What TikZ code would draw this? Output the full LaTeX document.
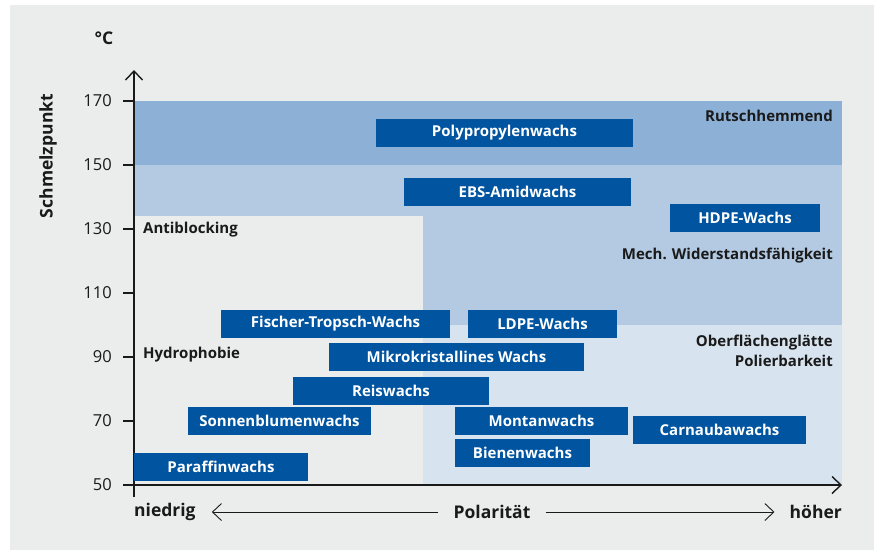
\documentclass[tikz,border=0pt]{standalone}
\usepackage{fontspec}
\setmainfont{Open Sans}
\usetikzlibrary{arrows.meta,positioning}
\definecolor{wachsblau}{HTML}{0054A0}
\definecolor{bandA}{HTML}{8DB0D6}
\definecolor{bandB}{HTML}{B3CAE2}
\definecolor{bandC}{HTML}{D7E3EF}
\definecolor{grund}{HTML}{EBECEC}
\definecolor{schrift}{HTML}{1A1A1A}

\begin{document}
\begin{tikzpicture}[x=1pt, y=-1pt, >={Straight Barb[length=9pt,width=17pt]}]
	\tikzstyle{wachs} = [fill=wachsblau, text=white, font=\bfseries\fontsize{15}{18}\selectfont, minimum height=28pt, inner sep=0pt]
	\tikzstyle{eigenschaft} = [text=schrift, font=\bfseries\fontsize{15}{20.5}\selectfont, inner sep=0pt]
	\tikzstyle{achse} = [text=schrift, font=\bfseries\fontsize{17.5}{20}\selectfont, inner sep=0pt]
	\tikzstyle{skala} = [text=schrift, font=\fontsize{16.5}{18}\selectfont, anchor=east, inner sep=0pt]
	\useasboundingbox (0,0) rectangle (874,550);
	% Hintergrund und Bereiche
	\fill[grund] (10,5) rectangle (874,550);
	\fill[bandA] (134,101) rectangle (842,165);
	\fill[bandB] (134,165) rectangle (842,325);
	\fill[bandC] (423,325) rectangle (842,485);
	\fill[grund] (134,216) rectangle (423,485);
	% Achsen
	\coordinate (yfuss) at (134,497);
	\coordinate (yspitze) at (134,70);
	\coordinate (xfuss) at (123,485);
	\coordinate (xspitze) at (842,485);
	\draw[->, line width=1.4pt, schrift] (yfuss) -- (yspitze);
	\draw[->, line width=1.4pt, schrift] (xfuss) -- (xspitze);
	\foreach \t [evaluate=\t as \ty using 101+(170-\t)*3.2] in {70,90,...,170} {
	  \draw[line width=1.4pt, schrift] (123,\ty) -- (134,\ty);
	}
	\foreach \t [evaluate=\t as \ty using 101+(170-\t)*3.2] in {50,70,...,170} {
	  \node[skala] (t\t) at (112,\ty) {\t};
	}
	\node[achse] (grad) at (104,38) {°C};
	\node[achse, rotate=90] (smp) at (48,156) {Schmelzpunkt};
	\node[achse, anchor=west] (ni) at (134,512) {niedrig};
	\node[achse] (pol) at (492,512) {Polarität};
	\node[achse, anchor=east] (ho) at (842,512) {höher};
	\draw[->, line width=0.9pt, schrift] (pol.west) ++(-15,0) coordinate (pl) (pl) -- ([xshift=16pt]ni.east);
	\draw[->, line width=0.9pt, schrift] (pol.east) ++(15,0) coordinate (pr) (pr) -- ([xshift=-15pt]ho.west);
	% Eigenschaften
	\node[eigenschaft, anchor=east] (rutsch) at (833,116) {Rutschhemmend};
	\node[eigenschaft, anchor=east] (mech) at (833,256) {Mech. Widerstandsfähigkeit};
	\node[eigenschaft, anchor=west] (anti) at (143,230) {Antiblocking};
	\node[eigenschaft, anchor=west] (hydro) at (143,355) {Hydrophobie};
	\node[eigenschaft, anchor=east, align=right] (ober) at (833,351) {Oberflächenglätte\\Polierbarkeit};
	% Wachse
	\node[wachs, minimum width=257pt] (pp) at (504.5,133) {Polypropylenwachs};
	\node[wachs, minimum width=227pt] (ebs) at (517.5,192) {EBS-Amidwachs};
	\node[wachs, minimum width=150pt] (hdpe) at (745,218) {HDPE-Wachs};
	\node[wachs, minimum width=229pt] (ft) at (335.5,324) {Fischer-Tropsch-Wachs};
	\node[wachs, minimum width=149pt] (ldpe) at (542.5,324) {LDPE-Wachs};
	\node[wachs, minimum width=255pt] (mk) at (456.5,357) {Mikrokristallines Wachs};
	\node[wachs, minimum width=196pt] (reis) at (391,391) {Reiswachs};
	\node[wachs, minimum width=183pt] (sb) at (279.5,421) {Sonnenblumenwachs};
	\node[wachs, minimum width=174pt] (par) at (221,467) {Paraffinwachs};
	\node[wachs, minimum width=173pt] (mon) at (541.5,421) {Montanwachs};
	\node[wachs, minimum width=135pt] (bien) at (522.5,453) {Bienenwachs};
	\node[wachs, minimum width=173pt] (carn) at (719.5,430) {Carnaubawachs};
\end{tikzpicture}
\end{document}
